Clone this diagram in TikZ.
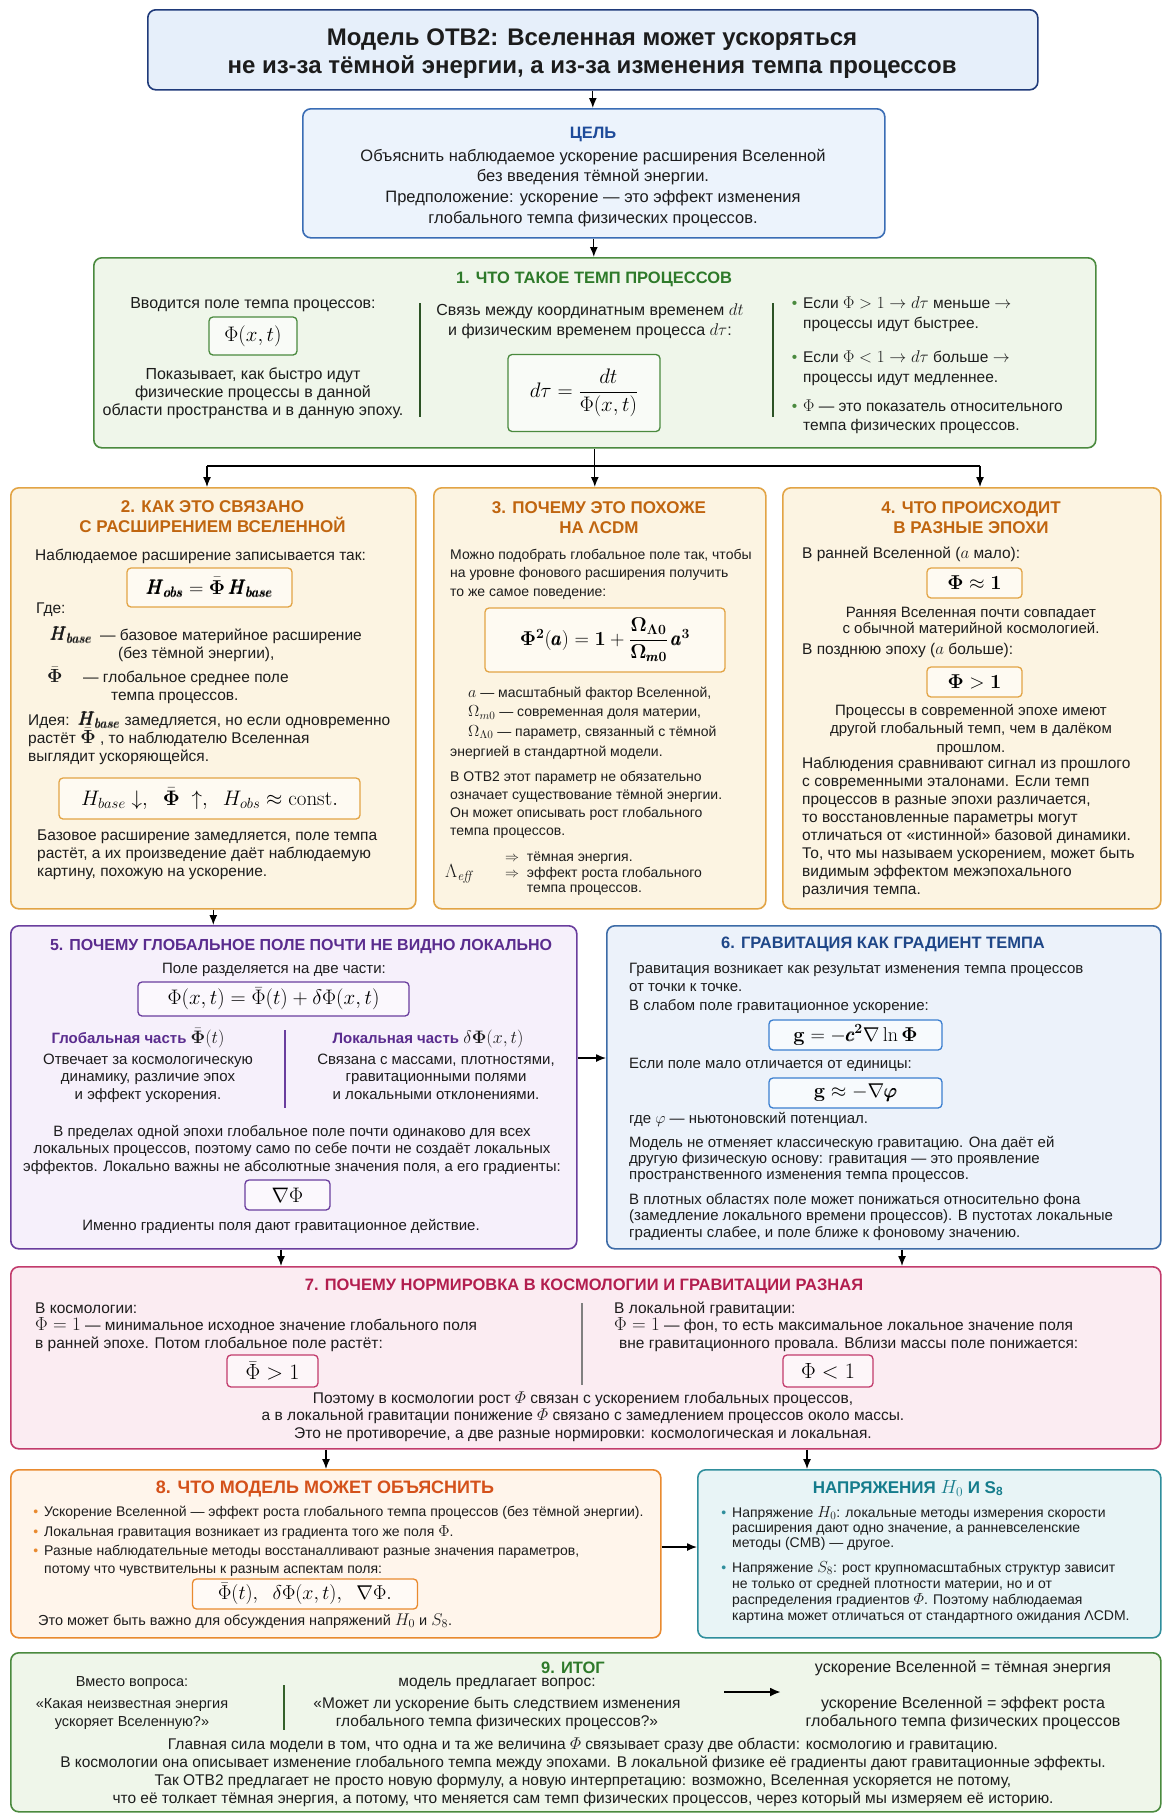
\RequirePackage{fix-cm}
\documentclass[tikz,border=0pt]{standalone}
\usepackage{amsmath}
\usepackage[no-math]{fontspec}
\setmainfont{Liberation Sans}
\usetikzlibrary{arrows.meta}
\definecolor{ink}{HTML}{1C1C1C}
\definecolor{navy}{HTML}{1F3A7A}
\definecolor{navyF}{HTML}{E6EFFA}
\definecolor{goalD}{HTML}{3A6DB5}
\definecolor{goalF}{HTML}{ECF3FC}
\definecolor{goalT}{HTML}{1E4B9A}
\definecolor{gD}{HTML}{4A8A3E}
\definecolor{gF}{HTML}{EFF6EA}
\definecolor{gT}{HTML}{2E7A2A}
\definecolor{oD}{HTML}{E2A445}
\definecolor{oF}{HTML}{FCF4E2}
\definecolor{oT}{HTML}{C0650F}
\definecolor{pD}{HTML}{6A3E9E}
\definecolor{pF}{HTML}{F6F0FB}
\definecolor{pT}{HTML}{5A2C8E}
\definecolor{bD}{HTML}{3C6BA7}
\definecolor{bF}{HTML}{ECF2FA}
\definecolor{bT}{HTML}{1F4788}
\definecolor{bI}{HTML}{3B7FD0}
\definecolor{kD}{HTML}{C23B6C}
\definecolor{kF}{HTML}{FBECF2}
\definecolor{kT}{HTML}{B21E4F}
\definecolor{rD}{HTML}{E98A2F}
\definecolor{rF}{HTML}{FFF5EB}
\definecolor{rT}{HTML}{D4511A}
\definecolor{tD}{HTML}{2F8E9C}
\definecolor{tF}{HTML}{E8F4F6}
\definecolor{tT}{HTML}{157C8C}
\colorlet{oI}{white!55!oF}
\colorlet{pI}{white!55!pF}
\colorlet{kI}{white!55!kF}
\colorlet{rI}{white!55!rF}
\colorlet{gI}{white!60!gF}
\colorlet{bII}{white!60!bF}
\newcommand{\fz}[2]{\fontsize{#1}{#2}\selectfont}
\newcommand{\Tst}{\rule{0pt}{20pt}}
\newcommand{\mth}[2][18]{{\fontsize{#1}{#1}\selectfont$#2$}}
\newcommand{\bH}{\pmb{H}}
\begin{document}
\begin{tikzpicture}[x=1pt,y=-1pt,
  sec/.style={draw, rounded corners=8pt, line width=1.6pt, anchor=north west, inner sep=0pt},
  fb/.style={draw, rounded corners=4pt, line width=1.3pt, inner sep=0pt},
  tl/.style={inner sep=0pt, anchor=north west, align=left, yshift=20pt, text=ink, execute at begin node={\lineskiplimit=-50pt}},
  tc/.style={inner sep=0pt, anchor=north, align=center, yshift=20pt, text=ink, execute at begin node={\lineskiplimit=-50pt}},
  arr/.style={line width=1.3pt, -{Latex[length=10pt,width=8pt]}},
  ln/.style={line width=1.3pt},
  dv/.style={line width=1.2pt},
  body/.style={font=\fz{15.5}{18}},
]
\useasboundingbox (0,0) rectangle (1162,1813);
\fill[white] (0,0) rectangle (1162,1813);

% ---------- title ----------
\node[sec, draw=navy, fill=navyF, minimum width=890pt, minimum height=80pt] (title) at (147,9) {};
\node[tc, font=\bfseries\fz{24}{28}] (titlet) at (592,45) {\Tst Модель ОТВ2: Вселенная может ускоряться\\не из-за тёмной энергии, а из-за изменения темпа процессов};

% ---------- goal ----------
\node[sec, draw=goalD, fill=goalF, minimum width=582pt, minimum height=129pt] (goal) at (302,108) {};
\node[tc, font=\bfseries\fz{16.5}{20}, text=goalT] (goalh) at (593,138) {\Tst ЦЕЛЬ};
\node[tc, font=\fz{16.5}{20.7}] (goalt) at (593,161) {\Tst Объяснить наблюдаемое ускорение расширения Вселенной\\без введения тёмной энергии.\\Предположение: ускорение — это эффект изменения\\глобального темпа физических процессов.};

% ---------- section 1 ----------
\node[sec, draw=gD, fill=gF, minimum width=1002pt, minimum height=190pt] (s1) at (93,257) {};
\node[tc, font=\bfseries\fz{16.5}{20}, text=gT] (s1h) at (594,283) {\Tst 1. ЧТО ТАКОЕ ТЕМП ПРОЦЕССОВ};
\node[tc, font=\fz{16}{18}] (s1a) at (253,308) {\Tst Вводится поле темпа процессов:};
\node[fb, draw=gD, fill=gI, minimum width=88pt, minimum height=38pt] (f1) at (253,336) {\fz{21}{21}$\Phi(x,t)$};
\node[tc, font=\fz{16}{18}] (s1b) at (253,379) {\Tst Показывает, как быстро идут\\физические процессы в данной\\области пространства и в данную эпоху.};
\draw[dv, draw=gD!60!black] (420,303) -- (420,417);
\node[tc, font=\fz{16}{20}] (s1c) at (590,315) {\Tst Связь между координатным временем \mth[17]{dt}\\и физическим временем процесса \mth[17]{d\tau}:};
\node[fb, draw=gD, fill=gI, minimum width=152pt, minimum height=77pt] (f2) at (584,393) {\fz{21}{21}$d\tau=\dfrac{dt}{\Phi(x,t)}$};
\draw[dv, draw=gD!60!black] (773,303) -- (773,417);
\node[tl, font=\fz{15.5}{20}] (s1d) at (803,308) {\Tst\llap{\textcolor{gD}{•}\hspace{6pt}}Если \mth[17]{\Phi>1\rightarrow d\tau} меньше \mth[17]{\rightarrow}\\процессы идут быстрее.};
\node[tl, font=\fz{15.5}{20}] (s1e) at (803,362) {\Tst\llap{\textcolor{gD}{•}\hspace{6pt}}Если \mth[17]{\Phi<1\rightarrow d\tau} больше \mth[17]{\rightarrow}\\процессы идут медленнее.};
\node[tl, font=\fz{15.5}{19}] (s1f) at (803,411) {\Tst\llap{\textcolor{gD}{•}\hspace{6pt}}\mth[17]{\Phi} — это показатель относительного\\темпа физических процессов.};

% ---------- section 2 ----------
\node[sec, draw=oD, fill=oF, minimum width=405pt, minimum height=421pt] (s2) at (10,487) {};
\node[tc, font=\bfseries\fz{17}{20.5}, text=oT] (s2h) at (212.5,512) {\Tst 2. КАК ЭТО СВЯЗАНО\\С РАСШИРЕНИЕМ ВСЕЛЕННОЙ};
\node[tl, body] (s2a) at (35,560) {\Tst Наблюдаемое расширение записывается так:};
\node[fb, draw=oD, fill=oI, minimum width=165pt, minimum height=39pt] (f3) at (209.5,587.5) {\fz{20}{20}$\bH_{\pmb{obs}}=\bar{\mathbf{\Phi}}\,\bH_{\pmb{base}}$};
\node[tl, body] (s2b) at (36,613) {\Tst Где:};
\node[tl, font=\fz{19}{19}] (s2c) at (50,640) {\Tst$\bH_{\pmb{base}}$};
\node[tl, body] (s2d) at (100,640) {\Tst — базовое материйное расширение};
\node[tl, body] (s2e) at (118,658) {\Tst (без тёмной энергии),};
\node[tl, font=\fz{19}{19}] (s2f) at (47,682) {\Tst$\bar{\mathbf{\Phi}}$};
\node[tl, body] (s2g) at (83,682) {\Tst — глобальное среднее поле};
\node[tl, body] (s2i) at (111,700) {\Tst темпа процессов.};
\node[tl, body] (s2j) at (28,725) {\Tst Идея:\ \ \mth[19]{\bH_{\pmb{base}}} замедляется, но если одновременно\\растёт \mth[19]{\bar{\mathbf{\Phi}}} , то наблюдателю Вселенная\\выглядит ускоряющейся.};
\node[fb, draw=oD, fill=oI, minimum width=301pt, minimum height=41pt] (f4) at (209.5,798.5) {\fz{21}{21}$H_{base}\downarrow,\ \ \bar{\mathbf{\Phi}}\ \uparrow,\ \ H_{obs}\approx\mathrm{const.}$};
\node[tl, body] (s2k) at (37,840) {\Tst Базовое расширение замедляется, поле темпа\\растёт, а их произведение даёт наблюдаемую\\картину, похожую на ускорение.};

% ---------- section 3 ----------
\node[sec, draw=oD, fill=oF, minimum width=332pt, minimum height=421pt] (s3) at (433,487) {};
\node[tc, font=\bfseries\fz{17}{20.5}, text=oT] (s3h) at (599,513) {\Tst 3. ПОЧЕМУ ЭТО ПОХОЖЕ\\НА ΛCDM};
\node[tl, font=\fz{14}{18.5}] (s3a) at (450,559) {\Tst Можно подобрать глобальное поле так, чтобы\\на уровне фонового расширения получить\\то же самое поведение:};
\node[fb, draw=oD, fill=oI, minimum width=240pt, minimum height=64pt] (f5) at (605,640) {\fz{20}{20}$\mathbf{\Phi}^{\mathbf{2}}(\pmb{a})=\mathbf{1}+\dfrac{\mathbf{\Omega}_{\mathbf{\Lambda0}}}{\mathbf{\Omega}_{\pmb{m}\mathbf{0}}}\,\pmb{a}^{\mathbf{3}}$};
\node[tl, font=\fz{14}{19.5}] (s3b) at (468,697) {\Tst\mth[16]{a} — масштабный фактор Вселенной,\\\mth[16]{\Omega_{m0}} — современная доля материи,\\\mth[16]{\Omega_{\Lambda0}} — параметр, связанный с тёмной};
\node[tl, font=\fz{14}{19.5}] (s3c) at (450,756) {\Tst энергией в стандартной модели.};
\node[tl, font=\fz{14}{18}] (s3d) at (450,781) {\Tst В ОТВ2 этот параметр не обязательно\\означает существование тёмной энергии.\\Он может описывать рост глобального\\темпа процессов.};
\node[tl, font=\fz{14}{15.5}] (s3e) at (505,861) {\Tst$\Rightarrow$\ \ тёмная энергия.};
\node[tl, font=\fz{19}{19}] (s3f) at (445,877) {\Tst$\Lambda_{\mathit{eff}}$};
\node[tl, font=\fz{14}{15.5}] (s3g) at (505,877) {\Tst$\Rightarrow$\ \ эффект роста глобального\\\hphantom{$\Rightarrow$\ \ }темпа процессов.};

% ---------- section 4 ----------
\node[sec, draw=oD, fill=oF, minimum width=378pt, minimum height=421pt] (s4) at (782,487) {};
\node[tc, font=\bfseries\fz{17}{20.5}, text=oT] (s4h) at (971,513) {\Tst 4. ЧТО ПРОИСХОДИТ\\В РАЗНЫЕ ЭПОХИ};
\node[tl, body] (s4a) at (802,558) {\Tst В ранней Вселенной (\mth[17]{a} мало):};
\node[fb, draw=oD, fill=oI, minimum width=95pt, minimum height=30pt] (f6) at (974.5,583) {\fz{20}{20}$\mathbf{\Phi}\approx\mathbf{1}$};
\node[tc, font=\fz{15}{16.5}] (s4b) at (971,617) {\Tst Ранняя Вселенная почти совпадает\\с обычной материйной космологией.};
\node[tl, body] (s4c) at (802,654) {\Tst В позднюю эпоху (\mth[17]{a} больше):};
\node[fb, draw=oD, fill=oI, minimum width=95pt, minimum height=30pt] (f7) at (974.5,682) {\fz{20}{20}$\mathbf{\Phi}>\mathbf{1}$};
\node[tc, font=\fz{15}{18.5}] (s4d) at (971,715) {\Tst Процессы в современной эпохе имеют\\другой глобальный темп, чем в далёком\\прошлом.};
\node[tl, font=\fz{15.5}{18.1}] (s4e) at (802,768) {\Tst Наблюдения сравнивают сигнал из прошлого\\с современными эталонами. Если темп\\процессов в разные эпохи различается,\\то восстановленные параметры могут\\отличаться от «истинной» базовой динамики.\\То, что мы называем ускорением, может быть\\видимым эффектом межэпохального\\различия темпа.};

% ---------- section 5 ----------
\node[sec, draw=pD, fill=pF, minimum width=566pt, minimum height=323pt] (s5) at (10,925) {};
\node[tc, font=\bfseries\fz{16}{20}, text=pT] (s5h) at (301,950) {\Tst 5. ПОЧЕМУ ГЛОБАЛЬНОЕ ПОЛЕ ПОЧТИ НЕ ВИДНО ЛОКАЛЬНО};
\node[tc, font=\fz{15}{18}] (s5a) at (274,973) {\Tst Поле разделяется на две части:};
\node[fb, draw=pD, fill=pI, minimum width=271pt, minimum height=34pt] (f8) at (273.5,999) {\fz{21}{21}$\Phi(x,t)=\bar{\Phi}(t)+\delta\Phi(x,t)$};
\node[tc, font=\bfseries\fz{15}{18}, text=pT] (s5b) at (138,1043) {\Tst Глобальная часть \textcolor{ink}{\mth[18]{\bar{\mathbf{\Phi}}(t)}}};
\node[tc, font=\bfseries\fz{15}{18}, text=pT] (s5c) at (428,1043) {\Tst Локальная часть \textcolor{ink}{\mth[18]{\delta\mathbf{\Phi}(x,t)}}};
\draw[dv, draw=pD] (285,1030) -- (285,1108);
\node[tc, font=\fz{15}{17.5}] (s5d) at (148,1064) {\Tst Отвечает за космологическую\\динамику, различие эпох\\и эффект ускорения.};
\node[tc, font=\fz{15}{17.5}] (s5e) at (436,1064) {\Tst Связана с массами, плотностями,\\гравитационными полями\\и локальными отклонениями.};
\node[tc, font=\fz{15}{17.5}] (s5f) at (292,1136) {\Tst В пределах одной эпохи глобальное поле почти одинаково для всех\\локальных процессов, поэтому само по себе почти не создаёт локальных\\эффектов. Локально важны не абсолютные значения поля, а его градиенты:};
\node[fb, draw=pD, fill=pI, minimum width=85pt, minimum height=30pt] (f9) at (287.5,1195) {\fz{21}{21}$\nabla\Phi$};
\node[tc, font=\fz{15}{18}] (s5g) at (281,1230) {\Tst Именно градиенты поля дают гравитационное действие.};

% ---------- section 6 ----------
\node[sec, draw=bD, fill=bF, minimum width=554pt, minimum height=323pt] (s6) at (606,925) {};
\node[tc, font=\bfseries\fz{16.5}{20}, text=bT] (s6h) at (883,948) {\Tst 6. ГРАВИТАЦИЯ КАК ГРАДИЕНТ ТЕМПА};
\node[tl, font=\fz{15}{18.5}] (s6a) at (629,973) {\Tst Гравитация возникает как результат изменения темпа процессов\\от точки к точке.\\В слабом поле гравитационное ускорение:};
\node[fb, draw=bI, fill=bII, minimum width=173pt, minimum height=30pt] (f10) at (855.5,1035) {\fz{20}{20}$\mathbf{g}=-\pmb{c}^{\mathbf{2}}\nabla\ln\mathbf{\Phi}$};
\node[tl, font=\fz{15}{18}] (s6b) at (629,1068) {\Tst Если поле мало отличается от единицы:};
\node[fb, draw=bI, fill=bII, minimum width=173pt, minimum height=30pt] (f11) at (855.5,1093) {\fz{20}{20}$\mathbf{g}\approx-\nabla\pmb{\varphi}$};
\node[tl, font=\fz{15}{18}] (s6c) at (629,1123) {\Tst где \mth[16]{\varphi} — ньютоновский потенциал.};
\node[tl, font=\fz{15}{16.3}] (s6d) at (629,1147) {\Tst Модель не отменяет классическую гравитацию. Она даёт ей\\другую физическую основу: гравитация — это проявление\\пространственного изменения темпа процессов.};
\node[tl, font=\fz{15}{16.5}] (s6e) at (629,1204) {\Tst В плотных областях поле может понижаться относительно фона\\(замедление локального времени процессов). В пустотах локальные\\градиенты слабее, и поле ближе к фоновому значению.};

% ---------- section 7 ----------
\node[sec, draw=kD, fill=kF, minimum width=1150pt, minimum height=182pt] (s7) at (10,1266) {};
\node[tc, font=\bfseries\fz{16.5}{20}, text=kT] (s7h) at (584,1290) {\Tst 7. ПОЧЕМУ НОРМИРОВКА В КОСМОЛОГИИ И ГРАВИТАЦИИ РАЗНАЯ};
\node[tl, font=\fz{15.5}{17.5}] (s7a) at (35,1313) {\Tst В космологии:\\\mth[19]{\Phi=1} — минимальное исходное значение глобального поля\\в ранней эпохе. Потом глобальное поле растёт:};
\node[fb, draw=kD, fill=kI, minimum width=91pt, minimum height=32pt] (f12) at (272.5,1371) {\fz{22}{22}$\bar{\Phi}>1$};
\draw[dv, draw=gray] (582,1303) -- (582,1385);
\node[tl, font=\fz{15.5}{17.5}] (s7b) at (614,1313) {\Tst В локальной гравитации:\\\mth[19]{\Phi=1} — фон, то есть максимальное локальное значение поля\\\hspace*{5pt}вне гравитационного провала. Вблизи массы поле понижается:};
\node[fb, draw=kD, fill=kI, minimum width=90pt, minimum height=32pt] (f13) at (828,1371) {\fz{22}{22}$\Phi<1$};
\node[tc, font=\fz{15.5}{17.5}] (s7c) at (583,1403) {\Tst Поэтому в космологии рост \mth[17]{\varPhi} связан с ускорением глобальных процессов,\\а в локальной гравитации понижение \mth[17]{\varPhi} связано с замедлением процессов около массы.\\Это не противоречие, а две разные нормировки: космологическая и локальная.};

% ---------- section 8 ----------
\node[sec, draw=rD, fill=rF, minimum width=650pt, minimum height=168pt] (s8) at (10,1469) {};
\node[tc, font=\bfseries\fz{18}{20}, text=rT] (s8h) at (325,1493) {\Tst 8. ЧТО МОДЕЛЬ МОЖЕТ ОБЪЯСНИТЬ};
\node[tl, font=\fz{14}{17.5}] (s8a) at (44,1516) {\Tst\llap{\textcolor{rD}{•}\hspace{6pt}}Ускорение Вселенной — эффект роста глобального темпа процессов (без тёмной энергии).};
\node[tl, font=\fz{14}{17.5}] (s8b) at (44,1536) {\Tst\llap{\textcolor{rD}{•}\hspace{6pt}}Локальная гравитация возникает из градиента того же поля \mth[16]{\Phi}.};
\node[tl, font=\fz{14}{18}] (s8c) at (44,1555) {\Tst\llap{\textcolor{rD}{•}\hspace{6pt}}Разные наблюдательные методы восстаналливают разные значения параметров,\\потому что чувствительны к разным аспектам поля:};
\node[fb, draw=rD, fill=rI, minimum width=225pt, minimum height=30pt] (f14) at (305,1594) {\fz{20}{20}$\bar{\Phi}(t),\ \ \delta\Phi(x,t),\ \ \nabla\Phi.$};
\node[tl, font=\fz{14.5}{17.5}] (s8d) at (38,1625) {\Tst Это может быть важно для обсуждения напряжений \mth[17]{H_0} и \mth[17]{S_8}.};

% ---------- tensions ----------
\node[sec, draw=tD, fill=tF, minimum width=463pt, minimum height=168pt] (tn) at (697,1469) {};
\node[tc, font=\bfseries\fz{17}{20}, text=tT] (tnh) at (908,1493) {\Tst НАПРЯЖЕНИЯ \mth[19]{H_0} И S\textsubscript{8}};
\node[tl, font=\fz{14}{15.3}] (tna) at (732,1517) {\Tst\llap{\textcolor{tD}{•}\hspace{6pt}}Напряжение \mth[16]{H_0}: локальные методы измерения скорости\\расширения дают одно значение, а ранневселенские\\методы (CMB) — другое.};
\node[tl, font=\fz{14}{16}] (tnb) at (732,1572) {\Tst\llap{\textcolor{tD}{•}\hspace{6pt}}Напряжение \mth[16]{S_8}: рост крупномасштабных структур зависит\\не только от средней плотности материи, но и от\\распределения градиентов \mth[16]{\varPhi}. Поэтому наблюдаемая\\картина может отличаться от стандартного ожидания ΛCDM.};

% ---------- section 9 ----------
\node[sec, draw=gD, fill=gF, minimum width=1150pt, minimum height=159pt] (s9) at (10,1652) {};
\node[tc, font=\bfseries\fz{16.5}{20}, text=gT] (s9h) at (573,1673) {\Tst 9. ИТОГ};
\node[tc, font=\fz{14.5}{18}] (s9a) at (132,1686) {\Tst Вместо вопроса:};
\node[tc, font=\fz{14.5}{18}] (s9a2) at (132,1708) {\Tst «Какая неизвестная энергия\\ускоряет Вселенную?»};
\draw[dv, draw=gD!70!black] (284,1685) -- (284,1730);
\node[tc, font=\fz{15.5}{18}] (s9b) at (497,1686) {\Tst модель предлагает вопрос:};
\node[tc, font=\fz{15.5}{18}] (s9b2) at (497,1708) {\Tst «Может ли ускорение быть следствием изменения\\глобального темпа физических процессов?»};
\coordinate (qa) at (724,1692);
\coordinate (qb) at (781,1692);
\draw[line width=2.2pt, -{Latex[length=11pt,width=9pt]}] (qa) -- (qb);
\node[tc, font=\fz{16}{18}] (s9c) at (963,1672) {\Tst ускорение Вселенной = тёмная энергия};
\node[tc, font=\fz{16}{18}] (s9d) at (963,1708) {\Tst ускорение Вселенной = эффект роста\\глобального темпа физических процессов};
\node[tc, font=\fz{15.5}{18}] (s9e) at (583,1749) {\Tst Главная сила модели в том, что одна и та же величина \mth[17]{\varPhi} связывает сразу две области: космологию и гравитацию.\\В космологии она описывает изменение глобального темпа между эпохами. В локальной физике её градиенты дают гравитационные эффекты.\\Так ОТВ2 предлагает не просто новую формулу, а новую интерпретацию: возможно, Вселенная ускоряется не потому,\\что её толкает тёмная энергия, а потому, что меняется сам темп физических процессов, через который мы измеряем её историю.};

% ---------- connectors ----------
\coordinate (brL) at (207,466);
\coordinate (brR) at (980,466);
\coordinate (m56) at (590,1058);
\coordinate (c57) at (281,1257);
\coordinate (c67) at (902,1257);
\coordinate (c78) at (326,1458);
\coordinate (c7t) at (807,1458);
\coordinate (m8t) at (678,1547);
\draw[arr] (title.south) -- (title.south |- goal.north);
\draw[arr] (goal.south) -- (goal.south |- s1.north);
\draw[arr] (s1.south) -- (s1.south |- s3.north);
\draw[ln] (brL) -- (brR);
\draw[arr] (brL) -- (brL |- s2.north);
\draw[arr] (brR) -- (brR |- s4.north);
\draw[arr] (s2.south) -- (s2.south |- s5.north);
\draw[arr] (m56 -| s5.east) -- (m56 -| s6.west);
\draw[arr] (c57 |- s5.south) -- (c57 |- s7.north);
\draw[arr] (c67 |- s6.south) -- (c67 |- s7.north);
\draw[arr] (c78 |- s7.south) -- (c78 |- s8.north);
\draw[arr] (c7t |- s7.south) -- (c7t |- tn.north);
\draw[arr] (m8t -| s8.east) -- (m8t -| tn.west);
\end{tikzpicture}
\end{document}
